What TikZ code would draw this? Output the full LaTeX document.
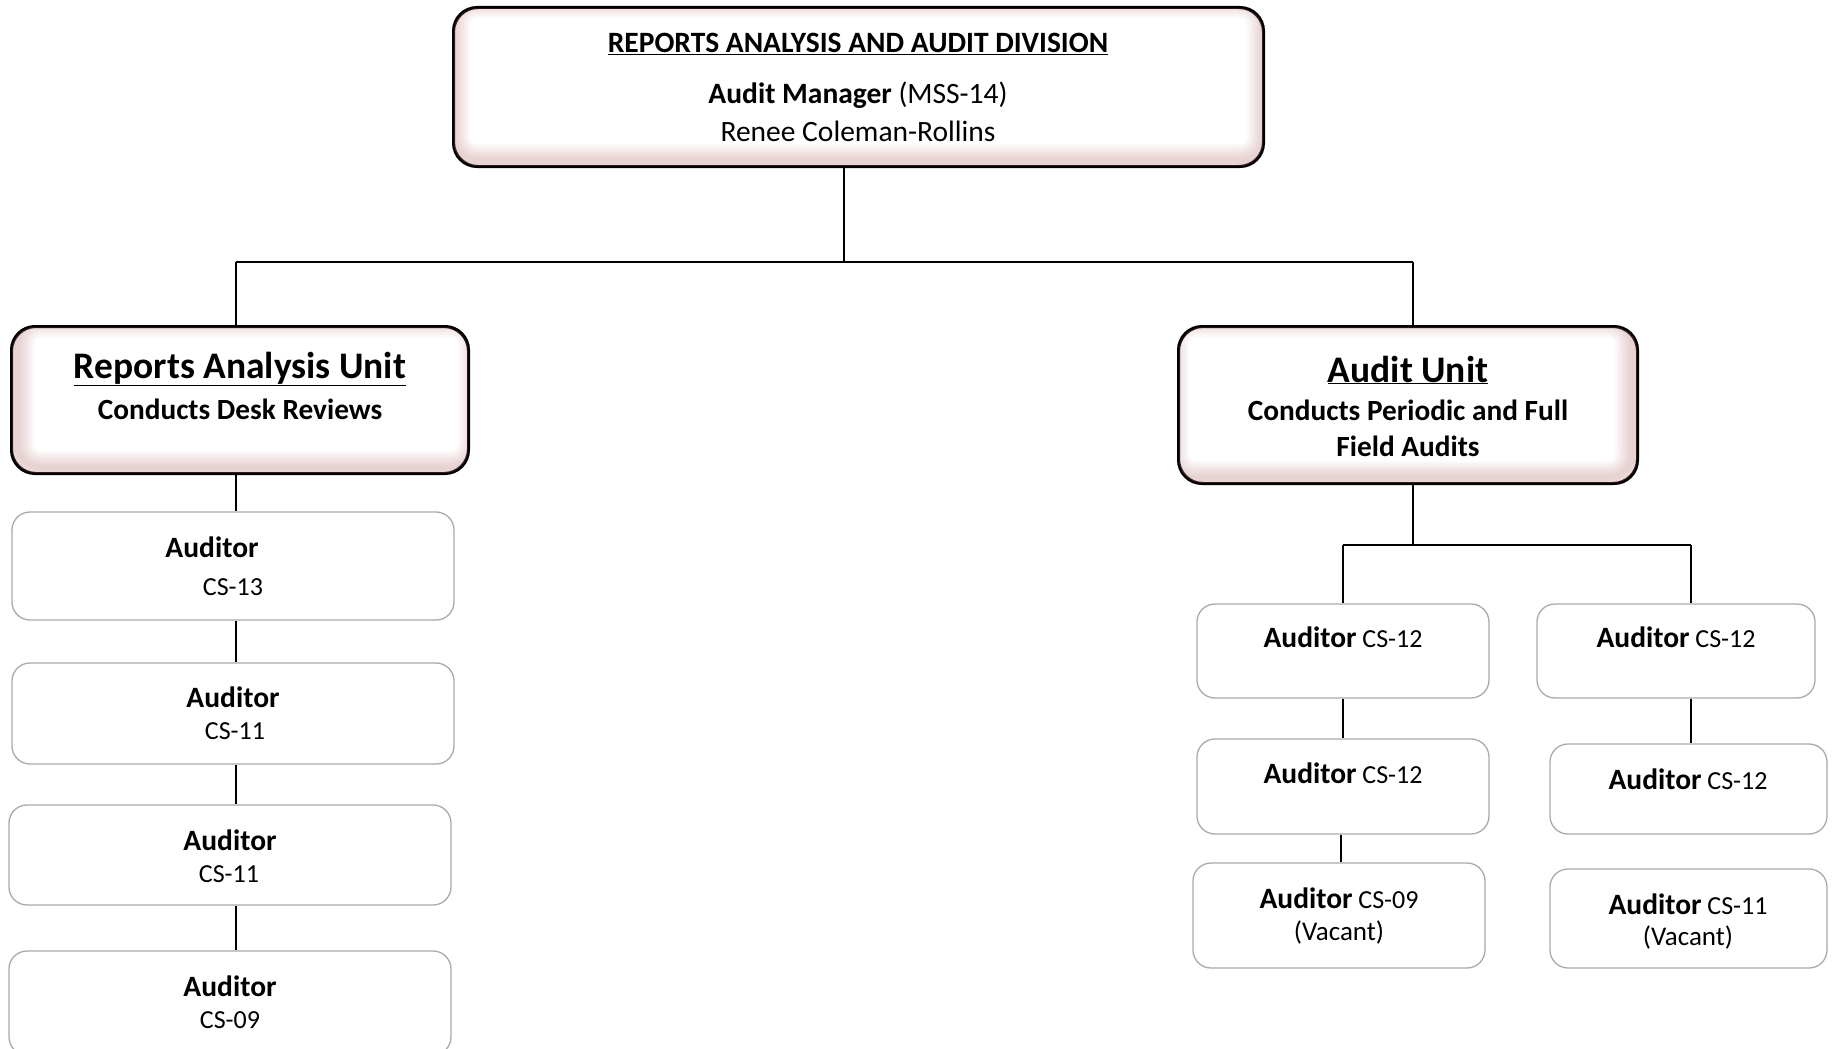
\documentclass[tikz,border=0pt]{standalone}
\usepackage{fontspec}
\setmainfont{Carlito}
\usetikzlibrary{positioning}

\definecolor{glow}{RGB}{190,120,120}
\definecolor{softgrey}{RGB}{170,170,170}

% size helper for the chart text
\newcommand{\fsz}[1]{\fontsize{#1}{#1}\selectfont}

\tikzset{
  headbox/.style={draw=black, line width=2pt, rounded corners=24pt, fill=white,
    inner sep=0pt},
  posbox/.style={draw=softgrey, line width=1.3pt, rounded corners=18pt, fill=white,
    inner sep=0pt},
  wire/.style={draw=black, line width=1.6pt},
  txt/.style={inner sep=0pt, anchor=center},
}

% soft pink inner glow along the edges of a head box
\newcommand{\innerglow}[3]{%
  \begin{scope}
    \clip[rounded corners=24pt] (#1.south west) rectangle (#1.north east);
    \foreach \w in {34,30,...,4}{
      \draw[glow, line width=\w pt, opacity=0.045, rounded corners=24pt]
        ([shift={(#2,#3)}]#1.south west) rectangle ([shift={(#2,#3)}]#1.north east);
    }
  \end{scope}
  \draw[black, line width=2pt, rounded corners=24pt] (#1.south west) rectangle (#1.north east);
}

\begin{document}
\begin{tikzpicture}[x=1pt, y=-1pt]
  \useasboundingbox (0,0) rectangle (1834,1049);
  \clip (0,0) rectangle (1834,1049);

  % ---------- division head ----------
  \node[headbox, minimum width=809pt, minimum height=158pt] (div) at (858.5,87) {};
  \innerglow{div}{0}{-6}
  \node[txt, font=\fsz{29.5}\bfseries] (divtitle) at (858,44) {\underline{REPORTS ANALYSIS AND AUDIT DIVISION}};
  \node[txt, font=\fsz{29.5}] (divmgr) at (858,95) {\textbf{Audit Manager} (MSS-14)};
  \node[txt, font=\fsz{29.5}] (divname) at (858,131) {Renee Coleman-Rollins};

  % ---------- units ----------
  \node[headbox, minimum width=456pt, minimum height=146pt] (rau) at (240,400) {};
  \innerglow{rau}{6}{-6}
  \node[txt, font=\fsz{37.5}\bfseries] (rautitle) at (240,369) {\underline{Reports Analysis Unit}};
  \node[txt, font=\fsz{29.3}\bfseries] (rausub) at (240,409) {Conducts Desk Reviews};

  \node[headbox, minimum width=458pt, minimum height=156pt] (au) at (1408,405) {};
  \innerglow{au}{-6}{-6}
  \node[txt, font=\fsz{37.5}\bfseries] (autitle) at (1408,370) {\underline{Audit Unit}};
  \node[txt, font=\fsz{29.3}\bfseries] (ausub1) at (1408,410) {Conducts Periodic and Full};
  \node[txt, font=\fsz{29.3}\bfseries] (ausub2) at (1408,446) {Field Audits};

  % ---------- reports analysis auditors ----------
  \node[posbox, minimum width=442pt, minimum height=108pt] (a1) at (233,566) {};
  \node[posbox, minimum width=442pt, minimum height=101pt] (a2) at (233,713.5) {};
  \node[posbox, minimum width=442pt, minimum height=100pt] (a3) at (230,855) {};
  \node[posbox, minimum width=442pt, minimum height=104pt] (a4) at (230,1003) {};

  \node[txt, font=\fsz{29.5}\bfseries] (a1t) at (212,547) {Auditor};
  \node[txt, font=\fsz{26}] (a1g) at (233,587) {CS-13};
  \node[txt, font=\fsz{29.5}\bfseries] (a2t) at (233,697) {Auditor};
  \node[txt, font=\fsz{26}] (a2g) at (235,731) {CS-11};
  \node[txt, font=\fsz{29.5}\bfseries] (a3t) at (230,840) {Auditor};
  \node[txt, font=\fsz{26}] (a3g) at (229,874) {CS-11};
  \node[txt, font=\fsz{29.5}\bfseries] (a4t) at (230,986) {Auditor};
  \node[txt, font=\fsz{26}] (a4g) at (230,1020) {CS-09};

  % ---------- audit unit auditors ----------
  \node[posbox, minimum width=292pt, minimum height=94pt] (b1) at (1343,651) {};
  \node[posbox, minimum width=292pt, minimum height=95pt] (b2) at (1343,786.5) {};
  \node[posbox, minimum width=292pt, minimum height=105pt] (b3) at (1339,915.5) {};
  \node[posbox, minimum width=278pt, minimum height=94pt] (c1) at (1676,651) {};
  \node[posbox, minimum width=277pt, minimum height=90pt] (c2) at (1688.5,789) {};
  \node[posbox, minimum width=277pt, minimum height=99pt] (c3) at (1688.5,918.5) {};

  \node[txt, font=\fsz{26}] (b1t) at (1343,637) {\textbf{\fsz{29.5}Auditor} CS-12};
  \node[txt, font=\fsz{26}] (b2t) at (1343,773) {\textbf{\fsz{29.5}Auditor} CS-12};
  \node[txt, font=\fsz{26}] (b3t) at (1339,898) {\textbf{\fsz{29.5}Auditor} CS-09};
  \node[txt, font=\fsz{27}] (b3v) at (1339,932) {(Vacant)};
  \node[txt, font=\fsz{26}] (c1t) at (1676,637) {\textbf{\fsz{29.5}Auditor} CS-12};
  \node[txt, font=\fsz{26}] (c2t) at (1688,779) {\textbf{\fsz{29.5}Auditor} CS-12};
  \node[txt, font=\fsz{26}] (c3t) at (1688,904) {\textbf{\fsz{29.5}Auditor} CS-11};
  \node[txt, font=\fsz{27}] (c3v) at (1688,937) {(Vacant)};

  % ---------- connectors ----------
  \coordinate (busM) at (844,262);
  \coordinate (busL) at (236,262);
  \coordinate (busR) at (1413,262);
  \draw[wire] (div.south -| busM) -- (busM);
  \draw[wire] (busL) -- (busR);
  \draw[wire] (busL) -- (rau.north -| busL);
  \draw[wire] (busR) -- (au.north -| busR);

  \draw[wire] (rau.south -| busL) -- (a1.north -| busL);
  \draw[wire] (a1.south -| busL) -- (a2.north -| busL);
  \draw[wire] (a2.south -| busL) -- (a3.north -| busL);
  \draw[wire] (a3.south -| busL) -- (a4.north -| busL);

  \coordinate (subM) at (1413,545);
  \coordinate (subL) at (1343,545);
  \coordinate (subR) at (1691,545);
  \draw[wire] (au.south -| subM) -- (subM);
  \draw[wire] (subL) -- (subR);
  \draw[wire] (subL) -- (b1.north -| subL);
  \draw[wire] (subR) -- (c1.north -| subR);
  \draw[wire] (b1.south -| subL) -- (b2.north -| subL);
  \draw[wire] ([xshift=-2pt]b2.south -| subL) -- ([xshift=-2pt]b3.north -| subL);
  \draw[wire] (c1.south -| subR) -- (c2.north -| subR);
\end{tikzpicture}
\end{document}
